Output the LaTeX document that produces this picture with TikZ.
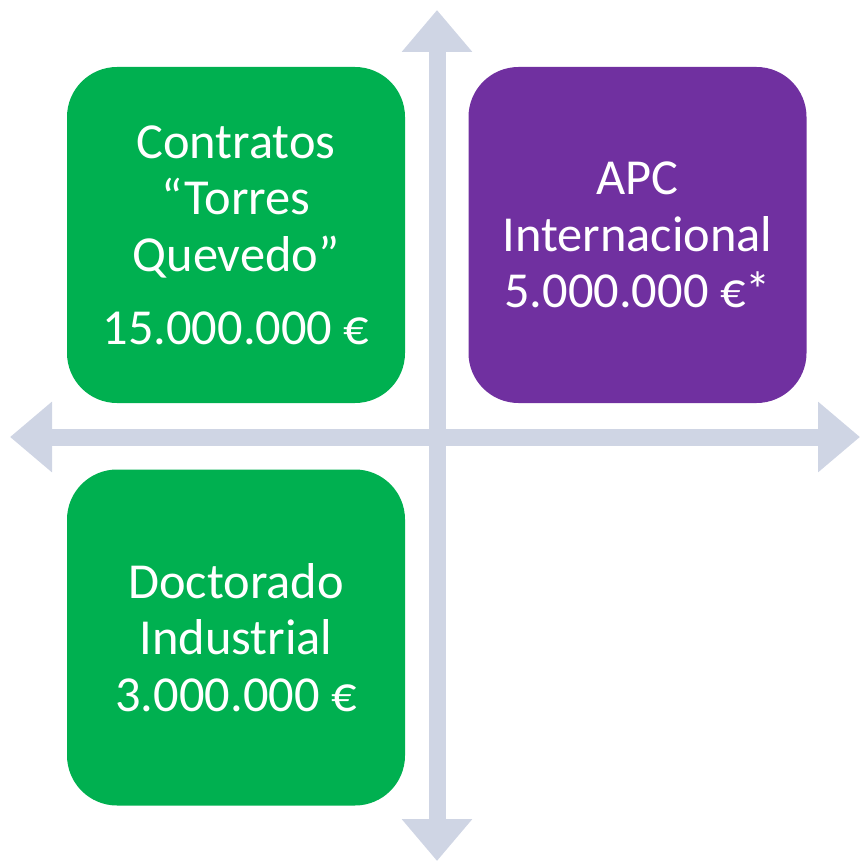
\documentclass[tikz,border=0pt]{standalone}
\usepackage{fontspec}
\setmainfont{Carlito}
\usetikzlibrary{positioning, arrows.meta}
\definecolor{verde}{HTML}{00B050}
\definecolor{morado}{HTML}{7030A0}
\definecolor{ejes}{HTML}{CFD5E4}

\begin{document}
\begin{tikzpicture}[x=0.5pt,y=-0.5pt,
    caja/.style={rounded corners=25pt, minimum width=169pt, minimum height=168pt, inner sep=0pt,
      text=white, align=center, font=\fontsize{25.2}{28.3}\selectfont},
    eje/.style={line width=8.5pt, draw=ejes,
      {Triangle[length=21pt,width=34pt]}-{Triangle[length=21pt,width=34pt]}}]
    \useasboundingbox (0,0) rectangle (860,861);

    \coordinate (arriba) at (437,10);%eje vertical
    \coordinate (abajo) at (437,861);
    \coordinate (izq) at (10,437);%eje horizontal
    \coordinate (der) at (860,437);
    \draw [eje](arriba)--(abajo);
    \draw [eje](izq)--(der);

    \node [caja, fill=verde] (torres) at (236,235)
      {Contratos\\“Torres\\Quevedo”\\[8pt]15.000.000 €};
    \node [caja, fill=morado] (apc) at (637.5,235)
      {APC\\Internacional\\5.000.000 €*};
    \node [caja, fill=verde] (doctorado) at (236,637.5)
      {Doctorado\\Industrial\\3.000.000 €};
\end{tikzpicture}
\end{document}
